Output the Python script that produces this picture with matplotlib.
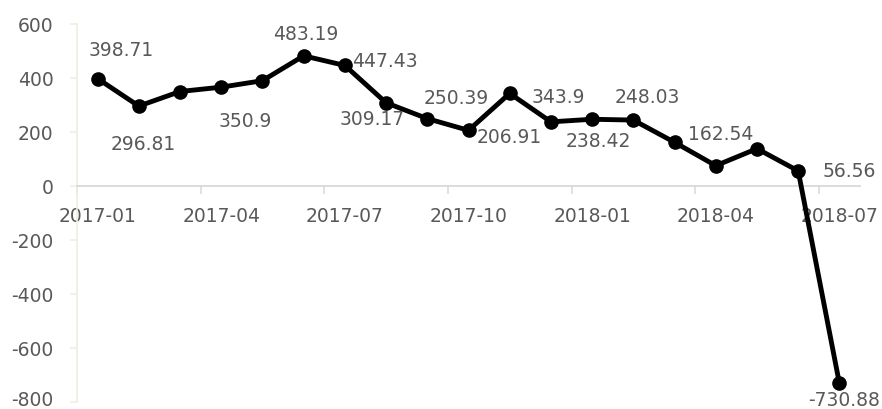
import numpy as np
import matplotlib
matplotlib.use("Agg")
import matplotlib.pyplot as plt
import matplotlib.transforms as mtrans

# monthly series 2017-01 .. 2018-07
months = ["2017-01", "2017-02", "2017-03", "2017-04", "2017-05", "2017-06",
          "2017-07", "2017-08", "2017-09", "2017-10", "2017-11", "2017-12",
          "2018-01", "2018-02", "2018-03", "2018-04", "2018-05", "2018-06",
          "2018-07"]
values = [398.71, 296.81, 350.9, 367.0, 391.0, 483.19, 447.43, 309.17,
          250.39, 206.91, 343.9, 238.42, 248.03, 245.0, 162.54, 76.0,
          139.0, 56.56, -730.88]
# which points carry a data label
labeled = [True, True, True, False, False, True, True, True, True, True,
           True, True, True, False, True, False, False, True, True]

# label offsets in pixels (dx right, dy up) as placed in the reference
label_off = {0: (24, 28), 1: (4, -38), 2: (65, -30), 5: (2, 21), 6: (40, 4),
             7: (-14, -17), 8: (29, 20), 9: (41, -7), 10: (49, -4),
             11: (47, -20), 12: (55, 22), 14: (46, 8), 17: (51, -1),
             18: (5, -17)}

txt = "#595959"
plt.rcParams['font.family'] = ['DejaVu Sans']
plt.rcParams['axes.unicode_minus'] = False

fig = plt.figure(figsize=(8.82, 4.09), dpi=100)
ax = fig.add_axes([77/882, 1 - 402/409, (860 - 77)/882, (402 - 24.3)/409])

x = np.arange(len(values))
ax.plot(x, values, "-o", color="black", lw=3.5, ms=9.5, zorder=3)

px2pt = 72/100
for i, v in enumerate(values):
    if not labeled[i]:
        continue
    dx, dy = label_off[i]
    ax.annotate(f"{v:g}", (x[i], v), xytext=(dx*px2pt, dy*px2pt),
                textcoords="offset points", ha="center", va="center",
                fontsize=13.5, color=txt)

ax.set_xlim(-0.5, len(values) - 0.5)
ax.set_ylim(-800, 600)
ax.set_yticks(np.arange(-800, 601, 200))

# ticks on slot boundaries, labels centred in the slots
ax.set_xticks(np.arange(-0.5, len(values) - 1, 3))
ax.set_xticklabels([])
ax.set_xticks(x[::3], minor=True)
ax.set_xticklabels(months[::3], minor=True)

ax.spines["top"].set_visible(False)
ax.spines["right"].set_visible(False)
ax.spines["bottom"].set_position(("data", 0))
ax.spines["bottom"].set_color("#D9D9D9")
ax.spines["bottom"].set_linewidth(1.3)
ax.spines["left"].set_color("#EFECE1")
ax.spines["left"].set_linewidth(1.2)

ax.tick_params(axis="x", which="major", length=5.5, width=1.1,
               color="#D9D9D9", direction="out")
ax.tick_params(axis="x", which="minor", length=0, pad=15,
               labelsize=13.5, labelcolor=txt)
ax.tick_params(axis="y", length=5, width=1.1, color="#EFECE1",
               pad=12, labelsize=13.5, labelcolor=txt)

# keep the lowest y label inside the canvas
fig.canvas.draw()
lab = ax.get_yticklabels()[0]
lab.set_transform(lab.get_transform() +
                  mtrans.ScaledTranslation(0, 4/100, fig.dpi_scale_trans))

fig.savefig("out.png", dpi=100)
